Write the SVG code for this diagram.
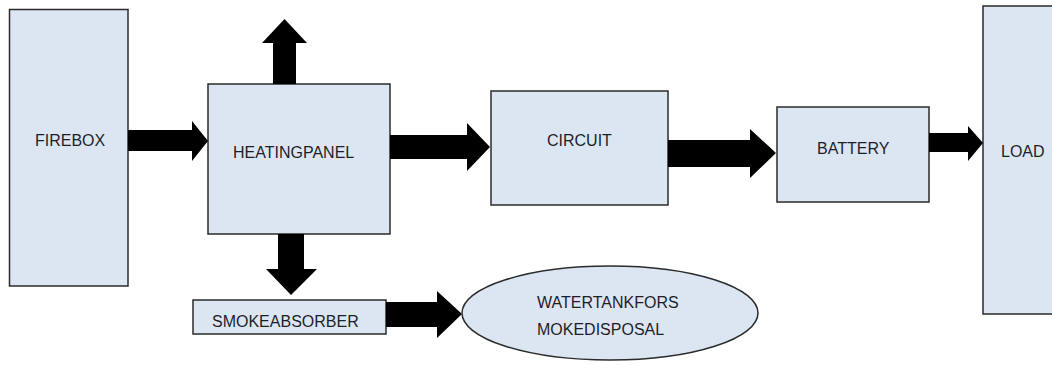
<svg xmlns="http://www.w3.org/2000/svg" width="1052" height="365" viewBox="0 0 1052 365">
<style>
.box{fill:#dce6f2;stroke:#2b2b2b;stroke-width:1.5}
.lbl{font-family:"Liberation Sans",Arial,sans-serif;font-size:16px;fill:#1e1e2a}
.arr{fill:#000}
</style>
<rect width="1052" height="365" fill="#fff"/>
<g id="firebox"><rect class="box" x="9.5" y="9.5" width="118.5" height="276.5"/><text class="lbl" x="35" y="146">FIREBOX</text></g>
<g id="heatingpanel"><rect class="box" x="208" y="84" width="182" height="150"/><text class="lbl" x="233" y="158">HEATINGPANEL</text></g>
<g id="circuit"><rect class="box" x="491" y="91" width="177" height="114"/><text class="lbl" x="547" y="146">CIRCUIT</text></g>
<g id="battery"><rect class="box" x="777" y="107" width="152" height="95"/><text class="lbl" x="817" y="154">BATTERY</text></g>
<g id="load"><rect class="box" x="983" y="6" width="80" height="308"/><text class="lbl" x="1001" y="157">LOAD</text></g>
<g id="smokeabsorber"><rect class="box" x="193" y="300" width="193" height="34"/><text class="lbl" x="212" y="327">SMOKEABSORBER</text></g>
<g id="watertank"><ellipse class="box" cx="610" cy="313" rx="148" ry="47"/><text class="lbl" x="537" y="308">WATERTANKFORS</text><text class="lbl" x="537" y="335">MOKEDISPOSAL</text></g>
<g id="connectors">
<polygon class="arr" points="128,130 192,130 192,121 208,141 192,161 192,151 128,151"/>
<polygon class="arr" points="273,84 273,43 262,43 284.5,19 307,43 296,43 296,84"/>
<polygon class="arr" points="278,234 304,234 304,269 317,269 291,295 266,269 278,269"/>
<polygon class="arr" points="390,135 467,135 467,123 490,147 467,171 467,159 390,159"/>
<polygon class="arr" points="668,140 750,140 750,129 776,153 750,178 750,167 668,167"/>
<polygon class="arr" points="929,133 968,133 968,126 983,143 968,161 968,152 929,152"/>
<polygon class="arr" points="386,302 437,302 437,291 462,314 437,338 437,327 386,327"/>
</g>
</svg>
